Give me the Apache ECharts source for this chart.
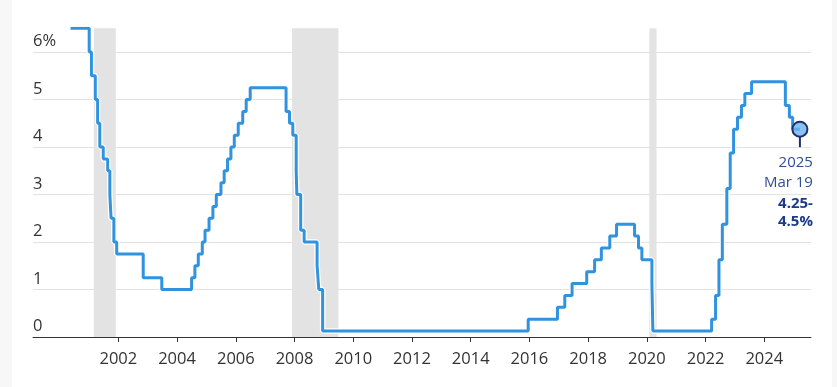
<!DOCTYPE html>
<html>
<head>
<meta charset="utf-8">
<script src="https://cdn.jsdelivr.net/npm/echarts@6/dist/echarts.min.js"></script>
<style>
html,body{margin:0;padding:0;background:#fff;}
#chart{width:837px;height:387px;}
</style>
</head>
<body>
<div id="chart"></div>
<script>
// Fed funds target rate (single target before Dec 2008, range midpoint after)
const rateDates = [
  '2000-05-16','2001-01-03','2001-01-31','2001-03-20','2001-04-18','2001-05-15','2001-06-27',
  '2001-08-21','2001-09-17','2001-10-02','2001-11-06','2001-12-11','2002-11-06','2003-06-25',
  '2004-06-30','2004-08-10','2004-09-21','2004-11-10','2004-12-14','2005-02-02','2005-03-22',
  '2005-05-03','2005-06-30','2005-08-09','2005-09-20','2005-11-01','2005-12-13','2006-01-31',
  '2006-03-28','2006-05-10','2006-06-29','2007-09-18','2007-10-31','2007-12-11','2008-01-22',
  '2008-01-30','2008-03-18','2008-04-30','2008-10-08','2008-10-29','2008-12-16','2015-12-17',
  '2016-12-15','2017-03-16','2017-06-15','2017-12-14','2018-03-22','2018-06-14','2018-09-27',
  '2018-12-20','2019-08-01','2019-09-19','2019-10-31','2020-03-04','2020-03-16','2022-03-17',
  '2022-05-05','2022-06-16','2022-07-28','2022-09-22','2022-11-03','2022-12-15','2023-02-02',
  '2023-03-23','2023-05-04','2023-07-27','2024-09-19','2024-11-08','2024-12-19','2025-03-19'
];
const rateValues = [
  6.5, 6.0, 5.5, 5.0, 4.5, 4.0, 3.75,
  3.5, 3.0, 2.5, 2.0, 1.75, 1.25, 1.0,
  1.25, 1.5, 1.75, 2.0, 2.25, 2.5, 2.75,
  3.0, 3.25, 3.5, 3.75, 4.0, 4.25, 4.5,
  4.75, 5.0, 5.25, 4.75, 4.5, 4.25, 3.5,
  3.0, 2.25, 2.0, 1.5, 1.0, 0.125, 0.375,
  0.625, 0.875, 1.125, 1.375, 1.625, 1.875, 2.125,
  2.375, 2.125, 1.875, 1.625, 1.125, 0.125, 0.375,
  0.875, 1.625, 2.375, 3.125, 3.875, 4.375, 4.625,
  4.875, 5.125, 5.375, 4.875, 4.625, 4.375, 4.375
];
const recessionStarts = ['2001-03-01', '2007-12-01', '2020-02-01'];
const recessionEnds   = ['2001-11-30', '2009-06-30', '2020-04-30'];
const xTickYears = [2002, 2004, 2006, 2008, 2010, 2012, 2014, 2016, 2018, 2020, 2022, 2024];
const xMinDate = '1999-02-04';
const xMaxDate = '2025-08-04';
const yTicks = [0, 1, 2, 3, 4, 5, 6];
const annotDate = '2025-03-19';
const annotValue = 4.375;
const annotLines = ['2025', 'Mar 19', '4.25-', '4.5%'];

const FONT = '"Open Sans", Lato, sans-serif';
const t = s => Date.parse(s + 'T00:00:00Z');
const lineData = rateDates.map((d, i) => [t(d), rateValues[i]]);
const tickTimes = xTickYears.map(y => Date.UTC(y, 0, 1));

const chart = echarts.init(document.getElementById('chart'));
chart.setOption({
  animation: false,
  backgroundColor: '#ffffff',
  graphic: [
    { type: 'rect', left: 0, top: 0, shape: { width: 12, height: 387 }, style: { fill: '#f7f7f7' }, z: -10 },
    { type: 'rect', left: 832, top: 0, shape: { width: 5, height: 387 }, style: { fill: '#f7f7f7' }, z: -10 }
  ],
  grid: { left: 33, right: 26, top: 28.25, bottom: 50 },
  xAxis: {
    type: 'value',
    min: t(xMinDate),
    max: t(xMaxDate),
    axisLine: { show: true, lineStyle: { color: '#333', width: 1 } },
    axisTick: { show: true, length: 5, lineStyle: { color: '#333' }, customValues: tickTimes },
    axisLabel: {
      customValues: tickTimes,
      color: '#333', fontSize: 16.5, fontFamily: FONT, margin: 14,
      formatter: v => String(new Date(v).getUTCFullYear())
    },
    splitLine: { show: false }
  },
  yAxis: {
    type: 'value',
    min: 0, max: 6.5, interval: 1,
    axisLine: { show: false },
    axisTick: { show: false },
    axisLabel: {
      inside: true, margin: 0, showMaxLabel: false,
      color: '#333', fontSize: 16.5, fontFamily: FONT,
      verticalAlign: 'bottom', lineHeight: 17, padding: [0, 0, 2, 0],
      formatter: v => (v === 6 ? '6%' : (yTicks.indexOf(v) >= 0 ? String(v) : ''))
    },
    splitLine: { show: true, showMinLine: false, showMaxLine: false, lineStyle: { color: '#e2e2e2', width: 1 } }
  },
  series: [
    {
      type: 'line', step: 'end', data: lineData, symbol: 'none', silent: true,
      lineStyle: { color: '#ffffff', width: 5.5 }, z: 2,
      markArea: {
        silent: true,
        itemStyle: { color: '#e3e3e3' },
        data: recessionStarts.map((s, i) => [{ xAxis: t(s) }, { xAxis: t(recessionEnds[i]) }])
      }
    },
    {
      type: 'line', step: 'end', data: lineData, symbol: 'none', silent: true,
      lineStyle: { color: '#2f93df', width: 3 }, z: 3
    },
    {
      type: 'custom', z: 5, silent: true,
      data: [[t(annotDate), annotValue]],
      renderItem: function (params, api) {
        const p = api.coord([api.value(0), api.value(1)]);
        const rx = p[0] + 13;
        return {
          type: 'group',
          children: [
            { type: 'line', shape: { x1: p[0], y1: p[1] + 7, x2: p[0], y2: p[1] + 18 },
              style: { stroke: '#1f2f6e', lineWidth: 2 } },
            { type: 'circle', shape: { cx: p[0], cy: p[1], r: 7.5 },
              style: { fill: 'rgba(110,178,236,0.8)', stroke: '#1f2f6e', lineWidth: 2 } },
            { type: 'text', x: rx, y: p[1] + 34,
              style: { text: annotLines[0], align: 'right', verticalAlign: 'middle', fill: '#2f4f94', font: '15px ' + FONT } },
            { type: 'text', x: rx, y: p[1] + 54,
              style: { text: annotLines[1], align: 'right', verticalAlign: 'middle', fill: '#2f4f94', font: '15px ' + FONT } },
            { type: 'text', x: rx, y: p[1] + 75,
              style: { text: annotLines[2], align: 'right', verticalAlign: 'middle', fill: '#1b3a8c', font: 'bold 15px ' + FONT } },
            { type: 'text', x: rx, y: p[1] + 93,
              style: { text: annotLines[3], align: 'right', verticalAlign: 'middle', fill: '#1b3a8c', font: 'bold 15px ' + FONT } }
          ]
        };
      }
    }
  ]
});
</script>
</body>
</html>
